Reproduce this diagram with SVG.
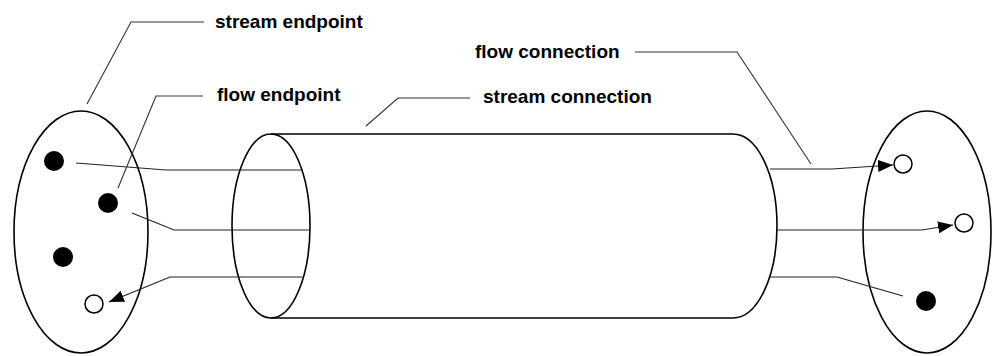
<svg xmlns="http://www.w3.org/2000/svg" width="992" height="356" viewBox="0 0 992 356">
<style>
.lbl{font-family:"Liberation Sans",Arial,sans-serif;font-size:19px;font-weight:bold;fill:#000}
.shape{fill:none;stroke:#000;stroke-width:1.6}
.lead{fill:none;stroke:#333;stroke-width:1.1}
.conn{fill:none;stroke:#222;stroke-width:1.2}
.dot{fill:#000}
.odot{fill:#fff;stroke:#000;stroke-width:1.5}
</style>
<defs>
<marker id="arr" markerUnits="userSpaceOnUse" markerWidth="15" markerHeight="12" refX="15" refY="6" orient="auto">
<path d="M0,0 L15,6 L0,12 z" fill="#000"/>
</marker>
</defs>
<rect width="992" height="356" fill="#fff"/>
<g id="stream-endpoint-left">
<ellipse class="shape" cx="81" cy="232" rx="67" ry="121"/>
<circle class="dot" cx="54" cy="161" r="10"/>
<circle class="dot" cx="108" cy="203" r="10"/>
<circle class="dot" cx="63" cy="257" r="10"/>
<circle class="odot" cx="94" cy="304" r="9"/>
</g>
<g id="stream-connection">
<ellipse class="shape" cx="271" cy="226" rx="39" ry="92"/>
<path class="shape" d="M271,134 H733 A44,92 0 0 1 733,318 H271"/>
</g>
<g id="stream-endpoint-right">
<ellipse class="shape" cx="927" cy="232" rx="64" ry="121"/>
<circle class="odot" cx="903" cy="164" r="9"/>
<circle class="odot" cx="964" cy="223" r="9"/>
<circle class="dot" cx="926" cy="301" r="10"/>
</g>
<g id="connectors">
<path class="conn" d="M76,163 L166,170 H302"/>
<path class="conn" d="M132,213 L174,230 H310"/>
<path class="conn" d="M302,277 H170 L109,302" marker-end="url(#arr)"/>
<path class="conn" d="M770,169 H832 L893,165" marker-end="url(#arr)"/>
<path class="conn" d="M777,230 H922 L953,225" marker-end="url(#arr)"/>
<path class="conn" d="M770,277 H837 L903,296"/>
</g>
<g id="labels">
<path class="lead" d="M204,22 H131 L87,104"/>
<text class="lbl" x="215" y="28">stream endpoint</text>
<path class="lead" d="M203,96 H156 L118,188"/>
<text class="lbl" x="217" y="101">flow endpoint</text>
<path class="lead" d="M470,98 H398 L366,126"/>
<text class="lbl" x="483" y="103">stream connection</text>
<path class="lead" d="M635,52 H737 L811,164"/>
<text class="lbl" x="475" y="58">flow connection</text>
</g>
</svg>
